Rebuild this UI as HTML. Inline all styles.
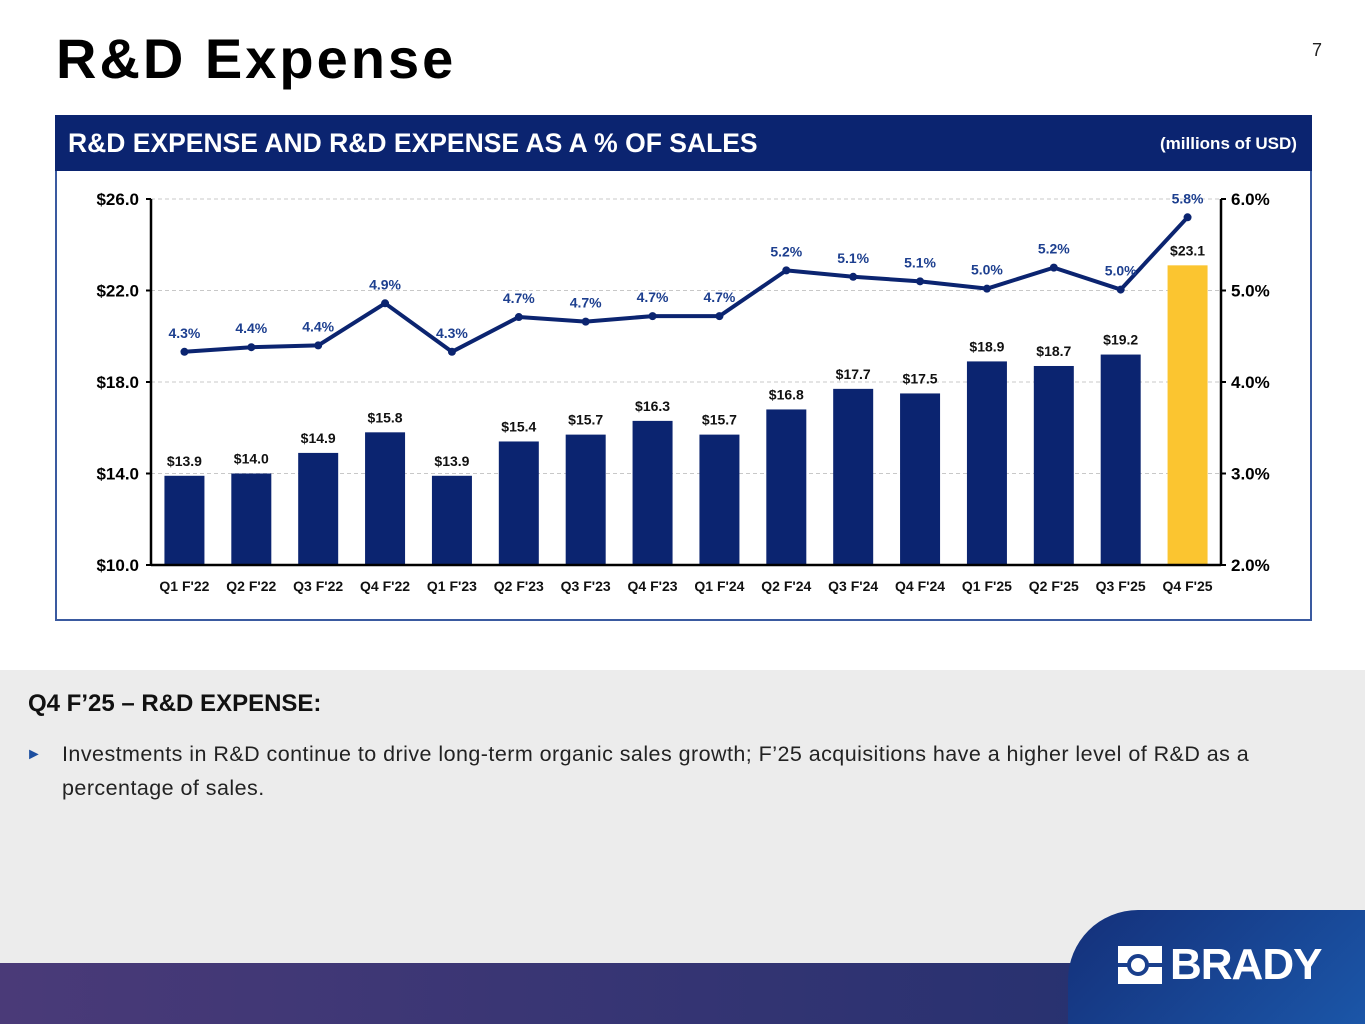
<!DOCTYPE html>
<html><head><meta charset="utf-8"><style>
body{margin:0;width:1365px;height:1024px;position:relative;overflow:hidden;background:#fff;font-family:"Liberation Sans",sans-serif}
.abs{position:absolute}
</style></head><body>
<div class="abs" style="left:56px;top:26px;font-size:56px;font-weight:bold;color:#000;letter-spacing:3px">R&amp;D Expense</div>
<div class="abs" style="left:1312px;top:40px;font-size:18px;color:#222">7</div>
<div class="abs" style="left:55px;top:115px;width:1253px;height:504px;border:2px solid #3a5aa0;border-top:none"></div>
<div class="abs" style="left:55px;top:115px;width:1257px;height:56px;background:#0b2470"></div>
<div class="abs" style="left:68px;top:128px;font-size:26.5px;font-weight:bold;color:#fff">R&amp;D EXPENSE AND R&amp;D EXPENSE AS A % OF SALES</div>
<div class="abs" style="left:1160px;top:134px;font-size:17px;font-weight:bold;color:#fff">(millions of USD)</div>
<svg class="abs" style="left:0;top:0" width="1365" height="660" id="chart"></svg>
<div class="abs" style="left:0;top:670px;width:1365px;height:354px;background:#ececec"></div>
<div class="abs" style="left:28px;top:690px;font-size:24px;font-weight:bold;color:#111">Q4 F’25 – R&amp;D EXPENSE:</div>
<div class="abs" style="left:26px;top:746px;font-size:16px;color:#1d4fa0">►</div>
<div class="abs" style="left:62px;top:737px;width:1215px;font-size:21.5px;letter-spacing:0.45px;line-height:34px;color:#222">Investments in R&amp;D continue to drive long-term organic sales growth; F’25 acquisitions have a higher level of R&amp;D as a percentage of sales.</div>
<div class="abs" style="left:0;top:963px;width:1365px;height:61px;background:linear-gradient(90deg,#4a3a78,#1f2f6e)"></div>
<div class="abs" style="left:1068px;top:910px;width:297px;height:114px;background:linear-gradient(135deg,#14307a,#1b56a8);border-top-left-radius:70px"></div>
<svg class="abs" style="left:1118px;top:946px" width="44" height="38"><rect x="0" y="0" width="44" height="38" fill="#fff"/><rect x="0" y="17" width="44" height="4" fill="#1a3f8c"/><circle cx="20" cy="19" r="9" fill="#fff" stroke="#1a3f8c" stroke-width="4"/></svg>
<div class="abs" style="left:1170px;top:940px;font-size:44px;font-weight:bold;color:#fff;letter-spacing:-1px">BRADY</div>
<script>
const categories=["Q1 F'22","Q2 F'22","Q3 F'22","Q4 F'22","Q1 F'23","Q2 F'23","Q3 F'23","Q4 F'23","Q1 F'24","Q2 F'24","Q3 F'24","Q4 F'24","Q1 F'25","Q2 F'25","Q3 F'25","Q4 F'25"];
const expense=[13.9,14.0,14.9,15.8,13.9,15.4,15.7,16.3,15.7,16.8,17.7,17.5,18.9,18.7,19.2,23.1];
const pct=[4.33,4.38,4.40,4.86,4.33,4.71,4.66,4.72,4.72,5.22,5.15,5.10,5.02,5.25,5.01,5.80];
const pctLabels=["4.3%","4.4%","4.4%","4.9%","4.3%","4.7%","4.7%","4.7%","4.7%","5.2%","5.1%","5.1%","5.0%","5.2%","5.0%","5.8%"];
const leftTicks=[10,14,18,22,26];
const rightTicks=[2,3,4,5,6];
const svg=document.getElementById('chart');
const NS='http://www.w3.org/2000/svg';
const X0=151,X1=1221,Y0=565,Y1=199;
const yL=v=>Y0-(v-10)/16*(Y0-Y1);
const yR=v=>Y0-(v-2)/4*(Y0-Y1);
const step=(X1-X0)/categories.length;
const xC=i=>X0+step*(i+0.5);
function mk(t,a,txt){const e=document.createElementNS(NS,t);for(const k in a)e.setAttribute(k,a[k]);if(txt!==undefined)e.textContent=txt;svg.appendChild(e);return e;}
const F='"Liberation Sans Narrow","Liberation Sans",sans-serif';
leftTicks.forEach((v,i)=>{
 if(i>0){const g=mk('line',{x1:X0,x2:X1,y1:yL(v),y2:yL(v),stroke:'#c8c8c8','stroke-dasharray':'4,3'});}
 const t=mk('text',{x:X0-12,y:yL(v)+6,'text-anchor':'end','font-family':F,'font-weight':'bold','font-size':17,fill:'#000'},'$'+v.toFixed(1));
 
 mk('line',{x1:X0-5,x2:X0,y1:yL(v),y2:yL(v),stroke:'#000','stroke-width':2});
});
rightTicks.forEach(v=>{
 const t=mk('text',{x:X1+10,y:yR(v)+6,'font-family':F,'font-weight':'bold','font-size':17,fill:'#000'},v.toFixed(1)+'%');
 
 mk('line',{x1:X1,x2:X1+5,y1:yR(v),y2:yR(v),stroke:'#000','stroke-width':2});
});
categories.forEach((c,i)=>{
 const last=i===categories.length-1;
 const b=mk('rect',{x:xC(i)-20,y:yL(expense[i]),width:40,height:Y0-yL(expense[i]),fill:last?'#fbc530':'#0b2470'});
 
 const v=mk('text',{x:xC(i),y:yL(expense[i])-10,'text-anchor':'middle','font-family':F,'font-weight':'bold','font-size':14,fill:'#111'},'$'+expense[i].toFixed(1));
 
 const t=mk('text',{x:xC(i),y:Y0+26,'text-anchor':'middle','font-family':F,'font-weight':'bold','font-size':14,fill:'#111'},c);
 
});
mk('line',{x1:X0,x2:X0,y1:Y1,y2:Y0,stroke:'#000','stroke-width':2.5});
mk('line',{x1:X1,x2:X1,y1:Y1,y2:Y0,stroke:'#000','stroke-width':2.5});
mk('line',{x1:X0,x2:X1,y1:Y0,y2:Y0,stroke:'#000','stroke-width':2.5});
const pl=mk('polyline',{points:pct.map((p,i)=>xC(i)+','+yR(p)).join(' '),fill:'none',stroke:'#0b2470','stroke-width':4,'stroke-linejoin':'round'});

pct.forEach((p,i)=>{
 const d=mk('circle',{cx:xC(i),cy:yR(p),r:4,fill:'#0b2470'});
 
 const t=mk('text',{x:xC(i),y:yR(p)-14,'text-anchor':'middle','font-family':F,'font-weight':'bold','font-size':14,fill:'#1d3f8f'},pctLabels[i]);
 
});
</script>
</body></html>
